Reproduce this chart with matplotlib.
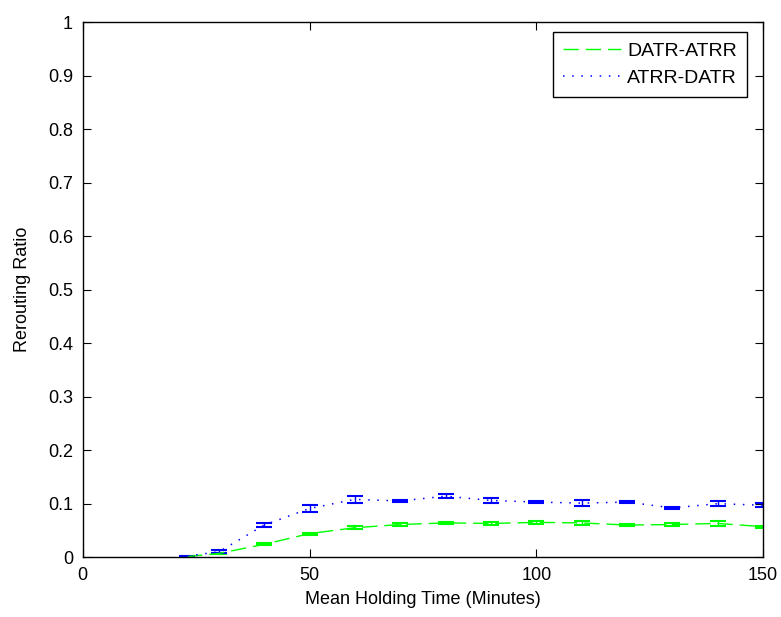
import matplotlib
matplotlib.use("Agg")
import matplotlib.pyplot as plt
from matplotlib.lines import Line2D

# data
x = [23, 30, 40, 50, 60, 70, 80, 90, 100, 110, 120, 130, 140, 150]
datr_atrr = [0.001, 0.007, 0.024, 0.044, 0.055, 0.061, 0.064, 0.063, 0.065, 0.064, 0.060, 0.061, 0.063, 0.057]
datr_atrr_err = [0.001, 0.001, 0.002, 0.002, 0.003, 0.002, 0.002, 0.002, 0.003, 0.003, 0.002, 0.002, 0.004, 0.002]
atrr_datr = [0.002, 0.010, 0.060, 0.091, 0.108, 0.105, 0.114, 0.106, 0.103, 0.101, 0.103, 0.092, 0.100, 0.097]
atrr_datr_err = [0.001, 0.003, 0.003, 0.006, 0.007, 0.002, 0.004, 0.005, 0.002, 0.006, 0.002, 0.002, 0.005, 0.004]

plt.rcParams['font.family'] = ['Liberation Sans', 'DejaVu Sans']

fig = plt.figure(figsize=(7.81, 6.17), dpi=100)
ax = fig.add_axes([0.106, 0.097, 0.871, 0.867])

green = (0, 1, 0)
blue = (0, 0, 1)
ax.errorbar(x, datr_atrr, yerr=datr_atrr_err, color=green, linestyle=(0, (11, 5)),
            linewidth=1, capsize=5.5, capthick=1.5, elinewidth=1)
ax.errorbar(x, atrr_datr, yerr=atrr_datr_err, color=blue, linestyle=(0, (1, 5)),
            linewidth=1.1, capsize=5.5, capthick=1.5, elinewidth=1)

ax.set_xlim(0, 150)
ax.set_ylim(0, 1)
ax.set_xticks([0, 50, 100, 150])
ax.set_yticks([i / 10 for i in range(11)])
ax.set_yticklabels(['0', '0.1', '0.2', '0.3', '0.4', '0.5', '0.6', '0.7', '0.8', '0.9', '1'])
ax.tick_params(direction='in', top=True, right=True, labelsize=13, length=6, pad=7)
for s in ax.spines.values():
    s.set_linewidth(1)

ax.set_xlabel('Mean Holding Time (Minutes)', fontsize=13, labelpad=5)
ax.set_ylabel('Rerouting Ratio', fontsize=13, labelpad=12)

handles = [Line2D([], [], color=green, linestyle=(0, (11, 5)), linewidth=1),
           Line2D([], [], color=blue, linestyle=(0, (1, 5)), linewidth=1.1)]
leg = ax.legend(handles, ['DATR-ATRR', 'ATRR-DATR'], loc='upper right',
                bbox_to_anchor=(0.976, 0.981), borderaxespad=0, fontsize=14,
                fancybox=False, edgecolor='black', framealpha=1,
                handlelength=3.0, handletextpad=0.3, labelspacing=0.5,
                borderpad=0.5)
leg.get_frame().set_linewidth(1)

fig.savefig('out.png', dpi=100)
